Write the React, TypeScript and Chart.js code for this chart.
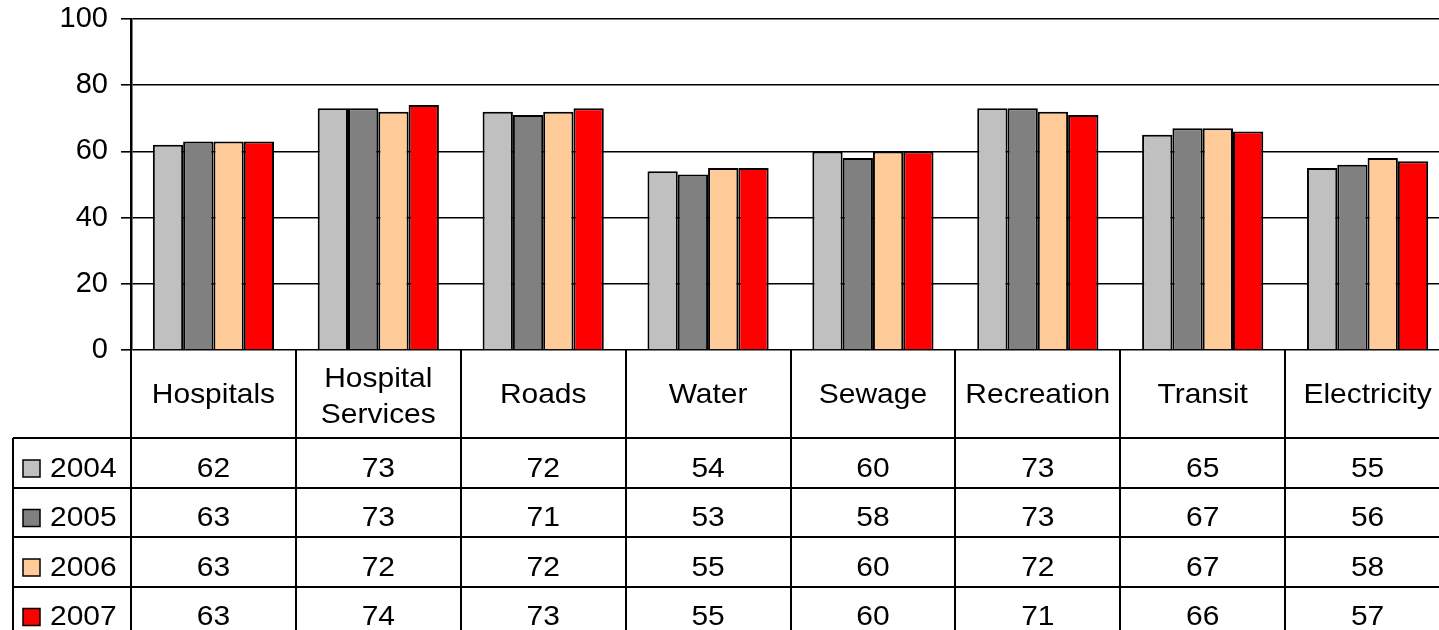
import { useEffect, useRef } from "react";
import { Chart, registerables } from "chart.js";

Chart.register(...registerables);

const categories: string[][] = [
  ["Hospitals"],
  ["Hospital", "Services"],
  ["Roads"],
  ["Water"],
  ["Sewage"],
  ["Recreation"],
  ["Transit"],
  ["Electricity"],
];
const years = ["2004", "2005", "2006", "2007"];
const values2004 = [62, 73, 72, 54, 60, 73, 65, 55];
const values2005 = [63, 73, 71, 53, 58, 73, 67, 56];
const values2006 = [63, 72, 72, 55, 60, 72, 67, 58];
const values2007 = [63, 74, 73, 55, 60, 71, 66, 57];
const seriesValues = [values2004, values2005, values2006, values2007];
const seriesColors = ["#C0C0C0", "#808080", "#FFCC99", "#FF0000"];
const yMin = 0;
const yMax = 100;
const yStep = 20;

const FONT = "'Liberation Sans', Arial, sans-serif";
const STRETCH = 1.07;

function drawText(ctx: CanvasRenderingContext2D, text: string, x: number, y: number, align: CanvasTextAlign) {
  ctx.save();
  ctx.translate(x, y);
  ctx.scale(STRETCH, 1);
  ctx.textAlign = align;
  ctx.textBaseline = "alphabetic";
  ctx.fillText(text, 0, 0);
  ctx.restore();
}

const tablePlugin = {
  id: "dataTable",
  afterDraw(chart: any) {
    const ctx: CanvasRenderingContext2D = chart.ctx;
    const { left, right, bottom } = chart.chartArea;
    const xs = chart.scales.x;
    const n = categories.length;
    const colW = (right - left) / n;
    const headerH = 88;
    const rowH = 49.5;
    const tableLeft = 13;
    const rowsTop = bottom + headerH;
    const tableBottom = rowsTop + rowH * years.length + 10;

    ctx.save();
    ctx.strokeStyle = "#000";
    ctx.lineWidth = 2;
    ctx.beginPath();
    for (let i = 0; i <= n; i++) {
      const x = Math.round(left + i * colW);
      ctx.moveTo(x, bottom);
      ctx.lineTo(x, tableBottom);
    }
    ctx.moveTo(tableLeft, rowsTop);
    ctx.lineTo(tableLeft, tableBottom);
    for (let r = 0; r < years.length; r++) {
      const y = Math.round(rowsTop + r * rowH);
      ctx.moveTo(tableLeft, y);
      ctx.lineTo(right, y);
    }
    ctx.stroke();

    ctx.fillStyle = "#000";
    ctx.font = `28px ${FONT}`;
    categories.forEach((lines, i) => {
      const cx = xs.getPixelForValue(i);
      if (lines.length === 1) {
        drawText(ctx, lines[0], cx, bottom + 53, "center");
      } else {
        drawText(ctx, lines[0], cx, bottom + 37, "center");
        drawText(ctx, lines[1], cx, bottom + 73, "center");
      }
    });

    years.forEach((yr, r) => {
      const top = rowsTop + r * rowH;
      const base = top + 38.5;
      ctx.fillStyle = seriesColors[r];
      ctx.fillRect(23, top + 22, 17, 17);
      ctx.lineWidth = 1.5;
      ctx.strokeStyle = "#000";
      ctx.strokeRect(23, top + 22, 17, 17);
      ctx.fillStyle = "#000";
      drawText(ctx, yr, 50, base, "left");
      seriesValues[r].forEach((v, i) => {
        drawText(ctx, String(v), xs.getPixelForValue(i), base, "center");
      });
    });
    ctx.restore();
  },
};

export default function App() {
  const canvasRef = useRef<HTMLCanvasElement | null>(null);

  useEffect(() => {
    if (!canvasRef.current) return;
    const chart = new Chart(canvasRef.current, {
      type: "bar",
      data: {
        labels: categories.map((c) => c.join(" ")),
        datasets: years.map((yr, i) => ({
          label: yr,
          data: seriesValues[i],
          backgroundColor: seriesColors[i],
          borderColor: "#000",
          borderWidth: 2,
          categoryPercentage: 0.735,
          barPercentage: 1,
        })),
      },
      options: {
        responsive: false,
        animation: false,
        layout: { padding: { top: 19, bottom: 290, left: 0, right: 10 } },
        plugins: {
          legend: { display: false },
          tooltip: { enabled: false },
        },
        scales: {
          x: { display: false },
          y: {
            min: yMin,
            max: yMax,
            ticks: {
              stepSize: yStep,
              color: "#000",
              padding: 13,
              font: { family: FONT, size: 29 },
            },
            grid: { color: "#000", lineWidth: 1.6, tickLength: 10 },
            border: { color: "#000", width: 2.5 },
            afterFit: (s: any) => {
              s.width = 131;
              s.paddingTop = 0;
              s.paddingBottom = 0;
            },
          },
        },
      },
      plugins: [tablePlugin],
    });
    return () => chart.destroy();
  }, []);

  return (
    <div
      style={{
        position: "fixed",
        left: 0,
        top: 0,
        width: 1439,
        height: 630,
        overflow: "hidden",
        background: "#fff",
      }}
    >
      <canvas ref={canvasRef} width={1460} height={640} style={{ display: "block" }} />
    </div>
  );
}
